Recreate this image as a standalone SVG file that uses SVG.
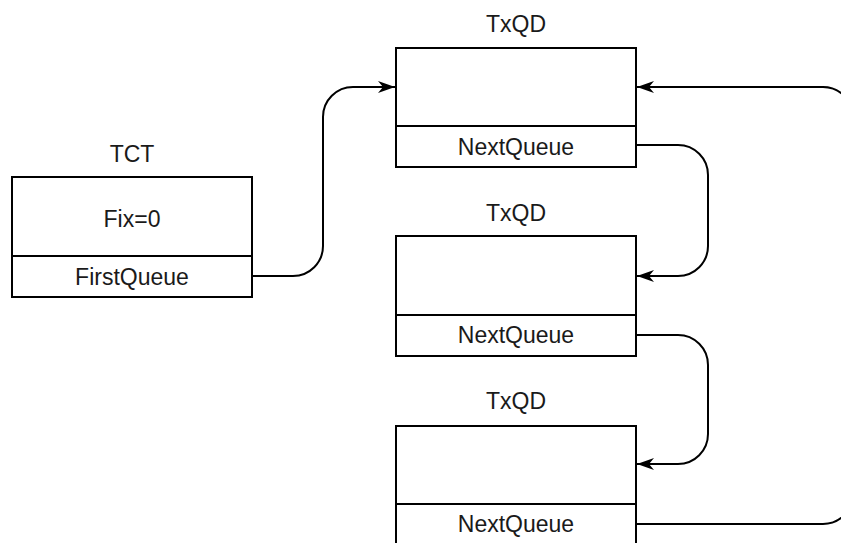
<svg xmlns="http://www.w3.org/2000/svg" width="841" height="543" viewBox="0 0 841 543">
<style>
.box{fill:#fff;stroke:#000;stroke-width:2}
.div{stroke:#000;stroke-width:2}
.t{font-family:"Liberation Sans",Arial,sans-serif;font-size:23px;fill:#1a1a1a;text-anchor:middle}
.c{fill:none;stroke:#000;stroke-width:2}
</style>
<defs>
<marker id="ah" viewBox="-18 -7 19 14" refX="0" refY="0" markerWidth="19" markerHeight="14" markerUnits="userSpaceOnUse" orient="auto">
<path d="M0,0 L-17,-6 L-12,0 L-17,6 Z" fill="#000"/>
</marker>
</defs>
<rect width="841" height="543" fill="#fff"/>
<g id="tct">
<text class="t" x="132" y="162">TCT</text>
<rect class="box" x="12" y="177" width="240" height="120"/>
<line class="div" x1="12" y1="256" x2="252" y2="256"/>
<text class="t" x="132" y="227">Fix=0</text>
<text class="t" x="132" y="285">FirstQueue</text>
</g>
<g id="txqd1">
<text class="t" x="516" y="32">TxQD</text>
<rect class="box" x="396" y="48" width="240" height="119"/>
<line class="div" x1="396" y1="126" x2="636" y2="126"/>
<text class="t" x="516" y="155">NextQueue</text>
</g>
<g id="txqd2">
<text class="t" x="516" y="221">TxQD</text>
<rect class="box" x="396" y="236" width="240" height="120"/>
<line class="div" x1="396" y1="315" x2="636" y2="315"/>
<text class="t" x="516" y="343">NextQueue</text>
</g>
<g id="txqd3">
<text class="t" x="516" y="409">TxQD</text>
<rect class="box" x="396" y="426" width="240" height="130"/>
<line class="div" x1="396" y1="504" x2="636" y2="504"/>
<text class="t" x="516" y="532">NextQueue</text>
</g>
<g id="connectors">
<path class="c" d="M252,276 H293 A30,30 0 0 0 323,246 V117 A30,30 0 0 1 353,87 H395" marker-end="url(#ah)"/>
<path class="c" d="M636,145 H678 A30,30 0 0 1 708,175 V246 A30,30 0 0 1 678,276 H637" marker-end="url(#ah)"/>
<path class="c" d="M636,335 H678 A30,30 0 0 1 708,365 V434 A30,30 0 0 1 678,464 H637" marker-end="url(#ah)"/>
<path class="c" d="M636,524 H823 A30,30 0 0 0 853,494 V117 A30,30 0 0 0 823,87 H637" marker-end="url(#ah)"/>
</g>
</svg>
